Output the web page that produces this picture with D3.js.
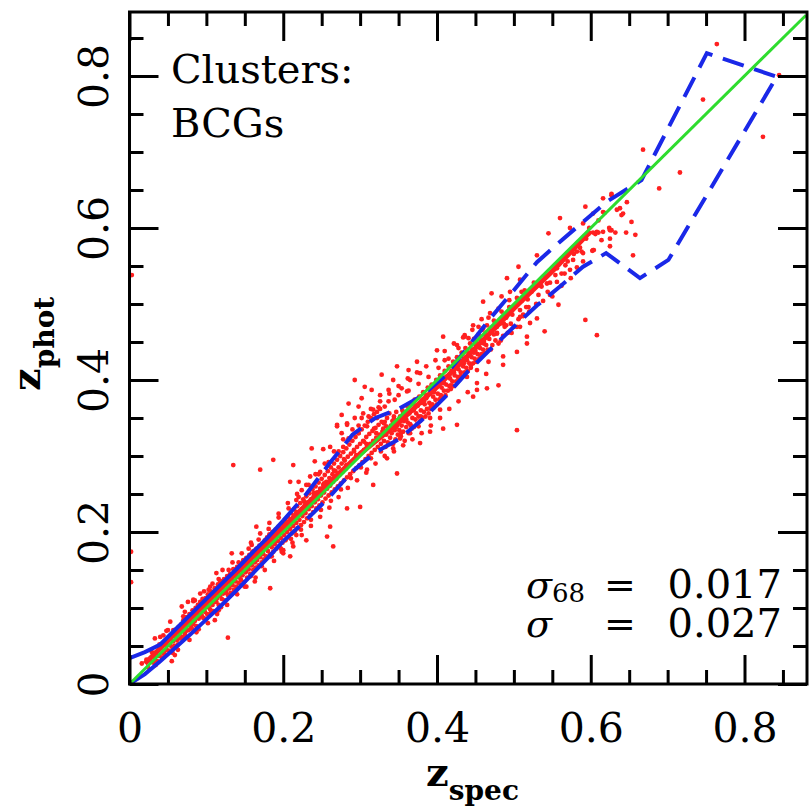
<!DOCTYPE html>
<html>
<head>
<meta charset="utf-8">
<script src="https://cdn.jsdelivr.net/npm/d3@7"></script>
<style>
  html, body { margin: 0; padding: 0; background: #fff; }
  svg text { font-family: "DejaVu Serif", serif; fill: #000; }
</style>
</head>
<body>
<div id="chart"></div>
<script>
// ---- data (zspec, zphot) ----
const xMajorTicks = [0, 0.2, 0.4, 0.6, 0.8];
const yMajorTicks = [0, 0.2, 0.4, 0.6, 0.8];
const minorTicks = [0.05, 0.1, 0.15, 0.25, 0.3, 0.35, 0.45, 0.5, 0.55, 0.65, 0.7, 0.75, 0.85];
const tickLabels = ['0', '0.2', '0.4', '0.6', '0.8'];

const oneToOne = [[0, 0], [0.88, 0.88]];

// running median (red)
const medianLine = [
  [.02, .027], [.05, .057], [.10, .107], [.15, .157], [.20, .206], [.25, .256], [.30, .303],
  [.35, .344], [.40, .391], [.45, .442], [.50, .494], [.55, .543], [.60, .596]
];

// upper / lower 68% envelopes (blue dashed)
const upperLine = [
  [0, .034], [.02, .042], [.04, .052], [.06, .072], [.08, .092], [.10, .112], [.12, .132],
  [.14, .152], [.16, .173], [.18, .193], [.20, .215], [.23, .250], [.26, .290], [.29, .328],
  [.32, .350], [.35, .362], [.38, .379], [.41, .405], [.44, .443], [.47, .482], [.50, .518],
  [.53, .555], [.56, .582], [.59, .608], [.62, .634], [.65, .653], [.666, .663], [.751, .830],
  [.842, .799]
];
const lowerLine = [
  [0, 0], [.02, .013], [.04, .030], [.06, .048], [.08, .066], [.10, .085], [.12, .104],
  [.14, .124], [.16, .145], [.18, .166], [.20, .188], [.23, .216], [.26, .246], [.29, .280],
  [.32, .305], [.35, .322], [.38, .347], [.41, .377], [.44, .411], [.47, .441], [.50, .470],
  [.53, .498], [.56, .523], [.59, .549], [.62, .567], [.664, .534], [.701, .558], [.842, .799]
];
const solidUntil = 0.2; // below this the envelope segments are short enough to look solid

// dense core of the distribution
const corePoints = [
  [.027,.031],[.024,.022],[.030,.036],[.031,.028],[.033,.041],[.036,.030],[.037,.044],[.038,.037],
  [.041,.048],[.042,.035],[.043,.041],[.044,.053],[.046,.039],[.047,.052],[.048,.045],[.049,.058],
  [.051,.044],[.052,.060],[.053,.051],[.054,.064],[.055,.049],
  [.057,.056],[.058,.068],[.059,.050],[.060,.063],[.061,.072],[.062,.058],[.063,.052],
  [.064,.075],[.065,.066],[.066,.060],[.067,.078],[.068,.070],[.069,.062],
  [.070,.084],[.071,.074],[.072,.066],[.073,.081],[.074,.070],[.075,.088],[.076,.078],
  [.077,.071],[.078,.092],[.079,.083],[.080,.075],[.081,.088],[.082,.097],[.083,.079],[.084,.090],[.085,.083],[.086,.100],[.087,.076],
  [.088,.093],[.089,.104],[.090,.086],[.091,.098],[.092,.108],[.093,.090],[.094,.101],[.095,.112],[.096,.087],[.097,.104],[.098,.095],
  [.099,.113],[.100,.106],[.101,.092],[.102,.118],[.103,.101],[.104,.110],[.105,.098],[.106,.122],[.107,.114],[.108,.104],[.109,.096],
  [.110,.118],[.111,.126],[.112,.108],[.113,.121],[.114,.113],[.115,.131],[.116,.104],[.117,.124],[.118,.116],[.119,.135],[.120,.112],
  [.121,.127],[.122,.119],[.123,.138],[.124,.110],[.125,.131],[.126,.123],[.127,.142],[.128,.117],[.129,.134],[.130,.126],[.131,.145],
  [.132,.120],[.133,.138],[.134,.130],[.135,.151],[.136,.124],[.137,.143],[.138,.135],[.139,.128],[.140,.154],[.141,.147],[.142,.133],
  [.143,.140],[.144,.158],[.145,.137],[.146,.150],[.147,.143],[.148,.161],[.149,.134],[.150,.155],[.151,.147],[.152,.166],[.153,.140],
  [.154,.158],[.155,.151],[.156,.170],[.157,.145],[.158,.163],[.159,.156],[.160,.174],[.161,.150],[.162,.168],[.163,.160],[.164,.153],
  [.165,.178],[.166,.163],[.167,.172],[.168,.156],[.169,.182],[.170,.167],[.171,.176],[.172,.160],[.173,.185],[.174,.171],[.175,.164],
  [.176,.189],[.177,.180],[.178,.168],[.179,.193],[.180,.175],[.181,.185],[.182,.197],[.183,.171],[.184,.188],[.185,.180],[.186,.200],
  [.187,.174],[.188,.192],[.189,.184],[.190,.203],[.191,.178],[.192,.196],[.193,.188],[.194,.207],[.195,.181],[.196,.200],[.197,.192],
  [.198,.211],[.199,.186],[.200,.204],[.201,.196],[.202,.216],[.203,.189],[.204,.208],[.205,.200],[.206,.220],[.207,.193],[.208,.212],
  [.209,.204],[.210,.225],[.211,.198],[.212,.216],[.213,.208],[.214,.230],[.215,.201],[.216,.221],[.217,.212],[.218,.234],[.219,.205],
  [.220,.225],[.221,.216],[.222,.238],[.223,.209],[.224,.230],[.225,.221],[.226,.243],[.227,.213],[.228,.235],[.229,.225],[.230,.247],
  [.231,.218],[.232,.239],[.233,.230],[.234,.251],[.235,.222],[.236,.243],[.237,.234],[.238,.256],[.239,.226],[.240,.248],[.241,.239],
  [.242,.260],[.243,.231],[.244,.252],[.245,.243],[.246,.265],[.247,.235],[.248,.257],[.249,.248],[.250,.270],[.251,.239],[.252,.262],
  [.253,.252],[.254,.275],[.255,.244],[.256,.266],[.257,.257],[.258,.280],[.259,.248],[.260,.271],[.261,.261],[.262,.285],[.263,.252],
  [.264,.276],[.265,.266],[.266,.290],[.267,.256],[.268,.280],[.269,.270],[.270,.295],[.271,.260],[.272,.285],[.273,.275],[.274,.300],
  [.275,.264],[.276,.290],[.277,.279],[.278,.305],[.279,.268],[.280,.294],[.281,.283],[.282,.310],[.283,.272],[.284,.299],[.285,.288],
  [.286,.315],[.287,.276],[.288,.303],[.289,.292],[.290,.320],[.291,.280],[.292,.308],[.293,.296],[.294,.325],[.295,.284],[.296,.312],
  [.297,.300],[.298,.330],[.299,.288],[.300,.316],[.301,.304],[.302,.335],[.303,.292],[.304,.320],[.305,.308],[.306,.340],[.307,.296],
  [.308,.325],[.309,.312],[.310,.345],[.311,.300],[.312,.329],[.313,.316],[.314,.350],[.315,.304],[.316,.333],[.317,.320],[.318,.355],
  [.319,.308],[.320,.337],[.321,.324],[.322,.358],[.323,.312],[.324,.341],[.325,.328],[.326,.362],[.327,.316],[.328,.345],[.329,.332],
  [.330,.336],[.331,.320],[.332,.345],[.333,.312],[.334,.328],[.335,.350],[.336,.318],[.337,.334],[.338,.356],[.339,.324],[.340,.340],
  [.341,.330],[.342,.346],[.343,.316],[.344,.352],[.345,.334],[.346,.322],[.347,.358],[.348,.340],[.349,.328],[.350,.346],[.351,.334],
  [.352,.352],[.353,.326],[.354,.340],[.355,.360],[.356,.332],[.357,.346],[.358,.320],[.359,.354],[.360,.338],[.361,.366],[.362,.344],
  [.363,.330],[.364,.356],[.365,.342],[.366,.368],[.367,.336],[.368,.350],[.369,.360],[.370,.338],[.371,.374],[.372,.348],[.373,.356],
  [.374,.342],[.375,.366],[.376,.352],[.377,.378],[.378,.346],[.379,.360],[.380,.370],[.381,.350],[.382,.384],[.383,.358],[.384,.368],
  [.385,.352],[.386,.376],[.387,.362],[.388,.390],[.389,.356],[.390,.370],[.391,.382],[.392,.362],[.393,.394],[.394,.368],[.395,.378],
  [.396,.364],[.397,.388],[.398,.374],[.399,.400],[.400,.368],[.401,.382],[.402,.392],[.403,.374],[.404,.406],[.405,.380],[.406,.390],
  [.407,.376],[.408,.400],[.409,.386],[.410,.412],[.411,.380],[.412,.394],[.413,.404],[.414,.386],[.415,.418],[.416,.392],[.417,.402],
  [.418,.388],[.419,.412],[.420,.398],[.421,.424],[.422,.392],[.423,.406],[.424,.416],[.425,.398],[.426,.430],[.427,.404],[.428,.414],
  [.429,.400],[.430,.424],[.431,.410],[.432,.436],[.433,.404],[.434,.418],[.435,.428],[.436,.410],[.437,.442],[.438,.416],[.439,.426],
  [.440,.412],[.441,.436],[.442,.422],[.443,.448],[.444,.416],[.445,.430],[.446,.440],[.447,.422],[.448,.454],[.449,.428],[.450,.438],
  [.451,.424],[.452,.448],[.453,.434],[.454,.460],[.455,.428],[.456,.442],[.457,.452],[.458,.434],[.459,.466],[.460,.440],[.461,.450],
  [.462,.436],[.463,.460],[.464,.446],[.465,.472],[.466,.440],[.468,.454],[.470,.464],[.472,.446],[.474,.478],[.476,.452],
  [.478,.462],[.480,.448],[.482,.474],[.484,.490],[.486,.458],[.488,.470],[.490,.482],[.492,.462],[.494,.496],[.496,.474],
  [.498,.486],[.500,.470],[.502,.496],[.504,.508],[.506,.480],[.508,.492],[.510,.504],[.512,.484],[.514,.518],[.516,.496],
  [.518,.506],[.520,.490],[.523,.516],[.526,.528],[.529,.500],[.532,.512],[.535,.524],[.538,.504],[.541,.536],[.544,.516],
  [.547,.528],[.550,.510],[.554,.538],[.558,.552],[.562,.524],[.566,.540],[.570,.556],[.574,.534],[.578,.566],[.582,.548],
  [.586,.574],[.590,.556],[.594,.586],[.598,.600],[.602,.570],[.606,.592],[.610,.610],[.614,.584],[.618,.620],[.624,.600]
];

// second pass over the band, filling the gaps between the core dots
const bandPoints = [
  [.032,.036],[.034,.025],[.039,.052],[.045,.043],[.050,.071],[.056,.041],[.062,.070],[.066,.072],[.071,.088],[.074,.062],
  [.079,.080],[.083,.109],[.087,.068],[.091,.101],[.094,.090],[.098,.103],[.103,.124],[.106,.094],[.109,.117],[.113,.108],
  [.116,.138],[.119,.101],[.123,.131],[.126,.120],[.129,.150],[.133,.118],[.136,.146],[.139,.141],[.142,.160],[.146,.130],
  [.149,.158],[.152,.150],[.155,.178],[.158,.142],[.162,.175],[.165,.169],[.168,.190],[.172,.155],[.175,.187],[.178,.180],
  [.181,.204],[.185,.168],[.188,.199],[.191,.189],[.194,.219],[.197,.178],[.201,.211],[.204,.214],[.207,.231],[.210,.191],
  [.214,.222],[.217,.226],[.220,.246],[.223,.203],[.227,.240],[.230,.232],[.233,.262],[.236,.216],[.240,.251],[.243,.248],
  [.246,.276],[.249,.229],[.253,.264],[.256,.262],[.259,.292],[.262,.241],[.266,.281],[.269,.273],[.272,.306],[.275,.256],
  [.279,.296],[.282,.288],[.285,.323],[.288,.271],[.292,.306],[.295,.301],[.298,.340],[.301,.285],[.305,.319],[.308,.316],
  [.311,.352],[.314,.297],[.318,.336],[.321,.330],[.324,.364],[.327,.306],[.331,.343],[.334,.339],[.337,.372],[.340,.316],
  [.344,.349],[.347,.338],[.350,.380],[.353,.330],[.357,.352],[.360,.348],[.363,.386],[.366,.340],[.370,.361],[.373,.366],
  [.376,.395],[.379,.352],[.383,.372],[.386,.380],[.389,.404],[.392,.365],[.396,.384],[.399,.392],[.402,.416],[.405,.377],
  [.409,.396],[.412,.404],[.415,.428],[.418,.393],[.422,.410],[.425,.418],[.428,.442],[.431,.405],[.435,.422],[.438,.430],
  [.441,.455],[.444,.419],[.448,.436],[.451,.445],[.454,.470],[.457,.431],[.461,.448],[.464,.458],[.467,.482],[.470,.440],
  [.474,.460],[.477,.470],[.480,.494],[.483,.452],[.487,.474],[.490,.472],[.494,.505],[.497,.462]
];

// wings of the band, mostly just outside the 68% envelopes
const wingPoints = [
  [.040,.062],[.048,.070],[.055,.030],[.063,.045],[.072,.095],[.078,.058],[.085,.110],[.090,.072],[.097,.122],[.102,.080],
  [.108,.132],[.114,.092],[.121,.150],[.127,.104],[.134,.160],[.140,.118],[.146,.172],[.152,.128],[.158,.186],[.164,.140],
  [.170,.198],[.176,.150],[.182,.212],[.188,.162],[.194,.224],[.200,.176],[.206,.238],[.212,.186],[.218,.250],[.224,.196],
  [.230,.262],[.236,.208],[.242,.276],[.248,.220],[.254,.290],[.260,.232],[.266,.306],[.272,.246],[.278,.322],[.284,.258],
  [.290,.335],[.296,.268],[.302,.350],[.308,.278],[.314,.362],[.320,.290],[.326,.372],[.332,.300],[.338,.382],[.344,.306],
  [.350,.392],[.356,.314],[.362,.402],[.368,.322],[.374,.410],[.380,.330],[.386,.418],[.392,.340],[.398,.426],[.404,.350],
  [.410,.438],[.416,.362],[.422,.448],[.428,.372],[.434,.456],[.440,.384],[.446,.466],[.452,.396],[.458,.480],[.464,.408]
];

// scattered galaxies and outliers
const outlierPoints = [
  [.016,.027],[.022,.032],[.031,.038],[.029,.042],[.033,.060],[.044,.064],[.053,.082],[.057,.071],[.061,.049],[.059,.038],
  [.070,.089],[.068,.102],[.076,.108],[.083,.111],[.092,.119],[.105,.128],[.118,.135],[.113,.146],[.128,.061],[.092,.089],
  [.116,.097],[.111,.084],[.100,.086],[.081,.073],[.133,.172],[.148,.163],[.150,.128],[.163,.135],[.183,.126],[.159,.183],
  [.165,.207],[.189,.192],[.200,.172],[.209,.168],
  [.135,.288],[.170,.282],[.187,.295],[.213,.288],[.237,.310],[.252,.309],[.261,.312],[.270,.341],[.283,.341],[.276,.330],
  [.298,.365],[.235,.273],[.220,.266],[.209,.266],[.224,.255],[.217,.242],[.241,.293],[.248,.279],[.230,.238],
  [.317,.262],[.300,.233],[.283,.231],[.261,.207],[.257,.194],[.230,.189],[.217,.196],[.213,.181],[.198,.174],[.183,.168],
  [.309,.282],[.348,.277],[.335,.297],[.343,.310],[.265,.181],
  [.293,.400],[.306,.391],[.328,.407],[.343,.400],[.348,.418],[.374,.424],[.363,.413],[.378,.409],[.400,.439],[.410,.426],
  [.426,.446],[.436,.459],[.447,.472],[.270,.339],[.285,.369],[.276,.354],[.302,.376],[.315,.387],[.326,.380],[.337,.387],
  [.354,.389],[.365,.400],[.361,.385],[.345,.374],[.332,.365],[.317,.361],[.304,.356],[.293,.350],[.283,.343],[.322,.350],
  [.309,.339],[.298,.330],[.287,.321],[.278,.312],[.330,.334],[.343,.343],[.356,.356],[.369,.369],
  [.391,.350],[.404,.361],[.376,.339],[.365,.330],[.352,.323],[.378,.317],[.391,.332],[.426,.341],[.408,.336],[.452,.387],
  [.465,.389],[.480,.393],[.504,.334],[.467,.424],[.486,.431],[.486,.420],[.504,.437],[.517,.448],[.452,.413],[.439,.404],
  [.478,.461],[.508,.470],[.512,.486],[.447,.378],
  [.408,.457],[.436,.457],[.460,.503],[.471,.514],[.484,.510],[.491,.534],[.506,.549],[.508,.532],[.495,.516],[.510,.516],
  [.519,.496],[.508,.483],[.521,.475],[.530,.481],[.540,.464],[.558,.499],[.547,.512],[.536,.523],[.530,.564],[.545,.593],
  [.560,.613],[.573,.600],[.582,.569],[.588,.569],[.577,.558],[.567,.551],[.556,.547],[.562,.540],[.573,.545],[.556,.529],
  [.543,.527],[.603,.571],[.608,.595],[.616,.595],[.627,.597],[.616,.621],[.634,.624],[.627,.643],[.616,.639],[.640,.617],
  [.593,.628],[.590,.606],[.504,.470],[.517,.457],[.478,.470],[.469,.488],[.460,.468],[.593,.479],[.608,.459],
  [.764,.842],[.746,.769],[.824,.720],[.668,.703],[.716,.673],[.689,.652],[.845,.801],[.627,.645],[.647,.634],[.638,.626],
  [.642,.619],[.653,.608],[.658,.591],[.655,.564],[.646,.594],[.632,.594],[.625,.597],[.610,.594],[.603,.594],[.597,.592],
  [.625,.586],[.625,.576],[.604,.571],[.590,.567],[.603,.619],
  [.002,.174],[.002,.134],[.003,.538]
];

const statLabels = ['68', ''];
const statValues = ['0.017', '0.027'];

// ---- layout ----
const width = 809;
const height = 809;
const plot = { left: 129.5, right: 807, top: 12, bottom: 684 };

const svg = d3.select('#chart')
  .append('svg')
  .attr('width', width)
  .attr('height', height);

const x = d3.scaleLinear().domain([0, 0.8813]).range([plot.left, plot.right]);
const y = d3.scaleLinear().domain([0, 0.8842]).range([plot.bottom, plot.top]);

svg.append('clipPath').attr('id', 'clip')
  .append('rect')
  .attr('x', plot.left).attr('y', plot.top)
  .attr('width', plot.right - plot.left).attr('height', plot.bottom - plot.top);

const inner = svg.append('g').attr('clip-path', 'url(#clip)');
const line = d3.line().x(d => x(d[0])).y(d => y(d[1]));

// points
inner.append('g')
  .selectAll('circle')
  .data(corePoints.concat(bandPoints, wingPoints, outlierPoints))
  .join('circle')
  .attr('cx', d => x(d[0]))
  .attr('cy', d => y(d[1]))
  .attr('r', 2.4)
  .attr('fill', '#ff2020');

// median
inner.append('path')
  .attr('d', line(medianLine))
  .attr('fill', 'none')
  .attr('stroke', '#ff2020')
  .attr('stroke-width', 5);

// blue envelopes: solid at low z, dashed above
const blue = '#1a28e8';
[upperLine, lowerLine].forEach(pts => {
  inner.append('path')
    .attr('d', line(pts.filter(d => d[0] <= solidUntil)))
    .attr('fill', 'none')
    .attr('stroke', blue)
    .attr('stroke-width', 4);
  inner.append('path')
    .attr('d', line(pts.filter(d => d[0] >= solidUntil)))
    .attr('fill', 'none')
    .attr('stroke', blue)
    .attr('stroke-width', 4)
    .attr('stroke-dasharray', '22,11');
});

// one-to-one line
inner.append('path')
  .attr('d', line(oneToOne))
  .attr('fill', 'none')
  .attr('stroke', '#2edc2e')
  .attr('stroke-width', 3);

// ---- axes: ticks point inwards on all four sides ----
function styleAxis(g) {
  g.select('.domain').remove();
  g.selectAll('.tick line').attr('stroke', '#000').attr('stroke-width', 3);
}

const majorLen = 29;
const minorLen = 14;

svg.append('g')
  .attr('transform', `translate(0,${plot.bottom})`)
  .call(d3.axisBottom(x).tickValues(minorTicks).tickSize(-minorLen).tickFormat(''))
  .call(styleAxis);
svg.append('g')
  .attr('transform', `translate(0,${plot.bottom})`)
  .call(d3.axisBottom(x).tickValues(xMajorTicks).tickSize(-majorLen)
    .tickFormat((d, i) => tickLabels[i]))
  .call(styleAxis)
  .call(g => g.selectAll('.tick text')
    .attr('y', 58).attr('dy', 0)
    .style('font-size', '41px'));

svg.append('g')
  .attr('transform', `translate(0,${plot.top})`)
  .call(d3.axisTop(x).tickValues(minorTicks).tickSize(-minorLen).tickFormat(''))
  .call(styleAxis);
svg.append('g')
  .attr('transform', `translate(0,${plot.top})`)
  .call(d3.axisTop(x).tickValues(xMajorTicks).tickSize(-majorLen).tickFormat(''))
  .call(styleAxis);

svg.append('g')
  .attr('transform', `translate(${plot.left},0)`)
  .call(d3.axisLeft(y).tickValues(minorTicks).tickSize(-minorLen).tickFormat(''))
  .call(styleAxis);
svg.append('g')
  .attr('transform', `translate(${plot.left},0)`)
  .call(d3.axisLeft(y).tickValues(yMajorTicks).tickSize(-majorLen)
    .tickFormat((d, i) => tickLabels[i]))
  .call(styleAxis)
  .call(g => g.selectAll('.tick text')
    .attr('x', 0).attr('y', -22).attr('dy', 0)
    .attr('transform', 'rotate(-90)')
    .attr('text-anchor', 'middle')
    .style('font-size', '41px'));

svg.append('g')
  .attr('transform', `translate(${plot.right},0)`)
  .call(d3.axisRight(y).tickValues(minorTicks).tickSize(-minorLen).tickFormat(''))
  .call(styleAxis);
svg.append('g')
  .attr('transform', `translate(${plot.right},0)`)
  .call(d3.axisRight(y).tickValues(yMajorTicks).tickSize(-majorLen).tickFormat(''))
  .call(styleAxis);

// frame
svg.append('rect')
  .attr('x', plot.left).attr('y', plot.top)
  .attr('width', plot.right - plot.left).attr('height', plot.bottom - plot.top)
  .attr('fill', 'none')
  .attr('stroke', '#000')
  .attr('stroke-width', 3);

// ---- axis titles ----
const xTitle = svg.append('text')
  .attr('x', 426).attr('y', 786)
  .style('font-weight', 'bold').style('font-size', '40px');
xTitle.append('tspan').text('z');
xTitle.append('tspan').attr('dy', 14).style('font-size', '28px').text('spec');

const yTitle = svg.append('text')
  .attr('transform', 'translate(40,391) rotate(-90)')
  .style('font-weight', 'bold').style('font-size', '40px');
yTitle.append('tspan').text('z');
yTitle.append('tspan').attr('dy', 14).style('font-size', '28px').text('phot');

// ---- annotations ----
svg.append('text').attr('x', 171).attr('y', 83).style('font-size', '40px').text('Clusters:');
svg.append('text').attr('x', 171).attr('y', 137).style('font-size', '40px').text('BCGs');

statValues.forEach((v, i) => {
  const base = 598 + i * 39;
  const t = svg.append('text').attr('x', 526).attr('y', base).style('font-size', '38px');
  t.append('tspan').style('font-style', 'italic').text('σ');
  if (statLabels[i]) {
    t.append('tspan').attr('dy', 4).style('font-size', '26px').text(statLabels[i]);
  }
  svg.append('text').attr('x', 604).attr('y', base).style('font-size', '38px').text('=');
  svg.append('text').attr('x', 782).attr('y', base).attr('text-anchor', 'end')
    .style('font-size', '40px').text(v);
});
</script>
</body>
</html>
